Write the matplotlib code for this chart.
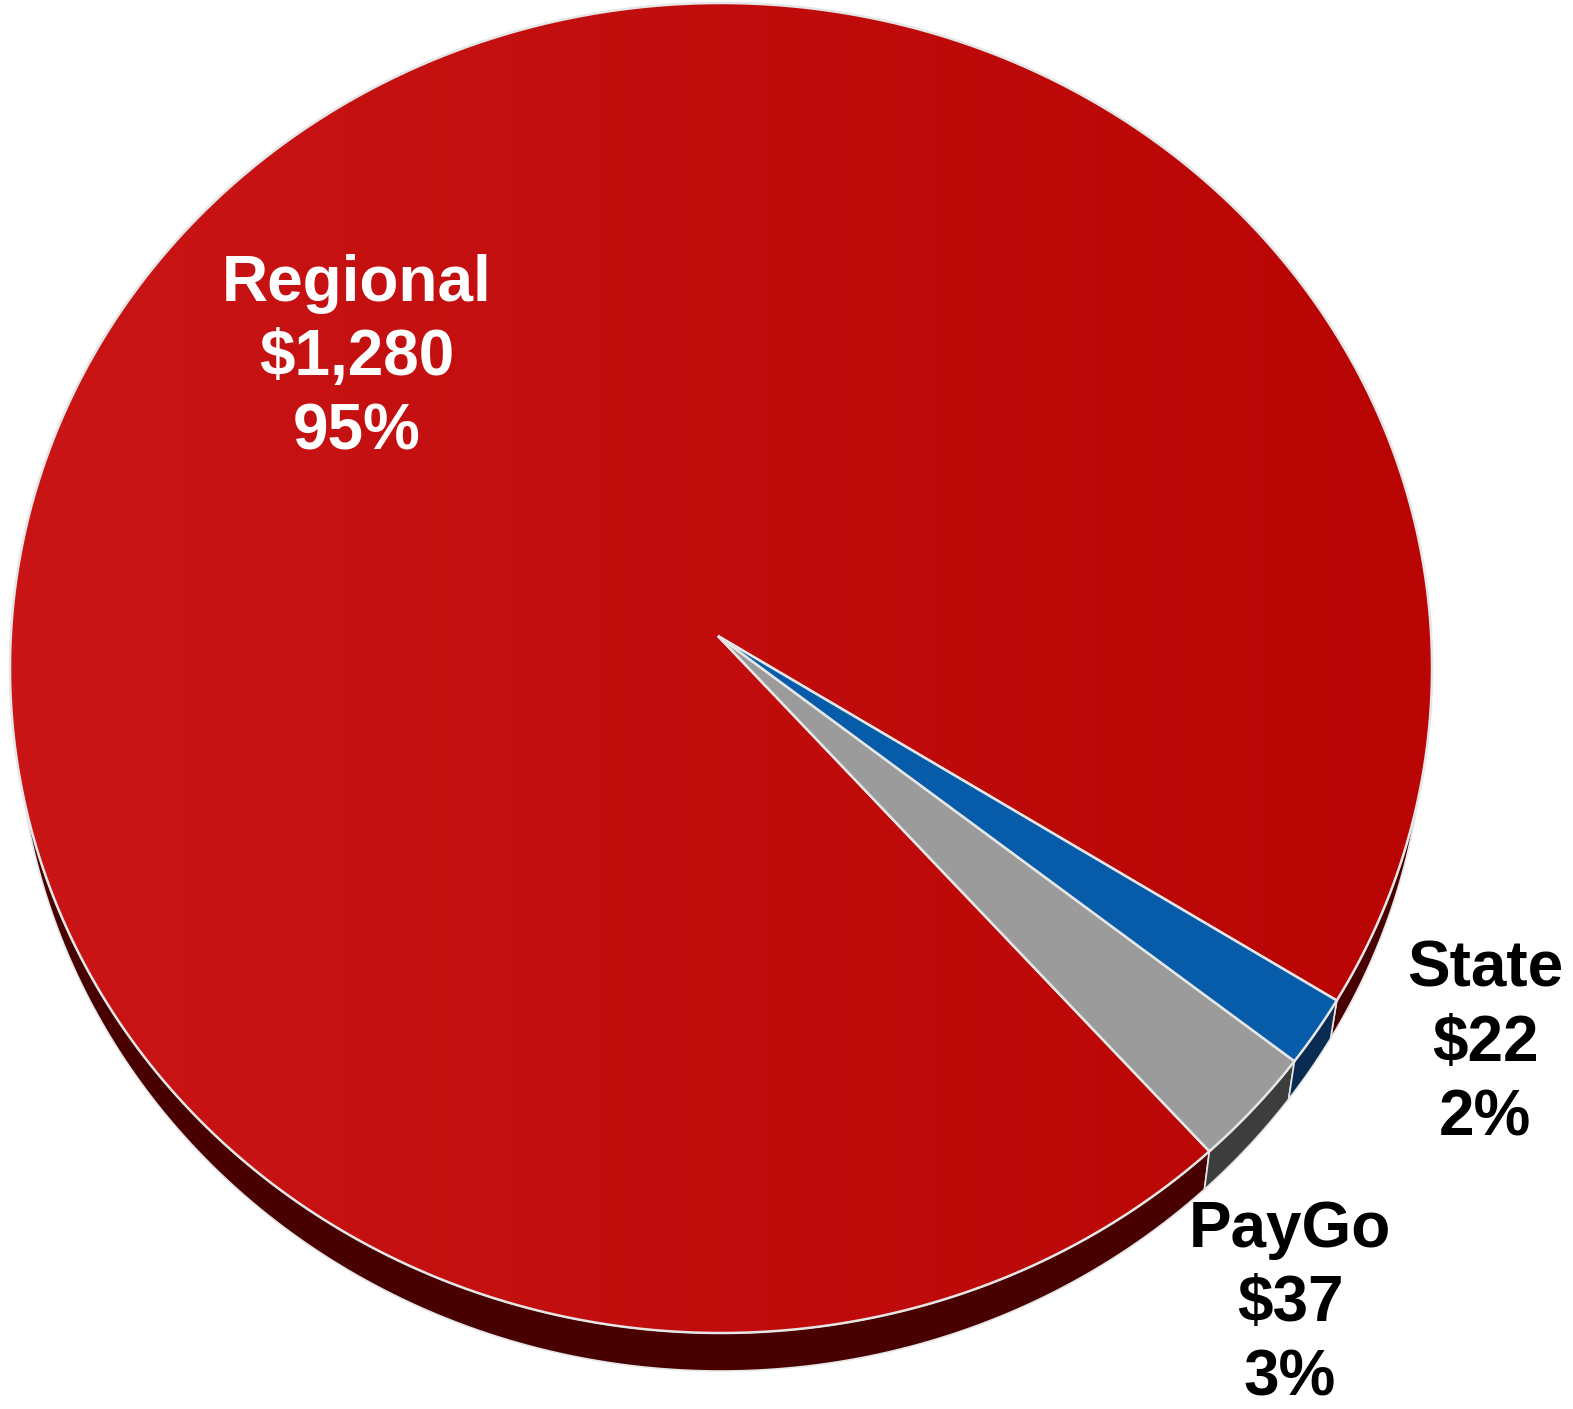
import numpy as np
import matplotlib.pyplot as plt
from matplotlib.patches import Polygon
from matplotlib.colors import LinearSegmentedColormap

# 资金来源（百万美元）
labels = ['Regional', 'PayGo', 'State']
values = [1280, 37, 22]
pct_labels = ['95%', '3%', '2%']
top_colors = ['#c21010', '#9b9b9b', '#065ca8']
side_colors = ['#480000', '#3d3d3d', '#0a2c52']
text_colors = ['white', 'black', 'black']

W, H = 1573, 1409
cx, cy, rx, ry = 721, 668, 711, 665   # 饼图上表面椭圆
ox, oy = 718, 636                      # 透视后的圆心
depth = 38
shrink = 0.99                          # 底面略小一点，做出透视感
start = -30.5


def rim(phi):
    # 从圆心沿 phi 方向射线与椭圆边缘的交点
    p = np.radians(np.atleast_1d(phi))
    c, s = np.cos(p), -np.sin(p)
    dx, dy = ox - cx, oy - cy
    a = (c / rx) ** 2 + (s / ry) ** 2
    b = 2 * (dx * c / rx ** 2 + dy * s / ry ** 2)
    k = (dx / rx) ** 2 + (dy / ry) ** 2 - 1
    t = (-b + np.sqrt(b * b - 4 * a * k)) / (2 * a)
    return ox + t * c, oy + t * s


fig = plt.figure(figsize=(W / 100, H / 100), dpi=100)
ax = fig.add_axes([0, 0, 1, 1])

total = sum(values)
angles = [start]
for v in values:
    angles.append(angles[-1] + v / total * 360)

edge = '#e6e6e6'

# 侧面
for i in range(len(values)):
    phi = np.linspace(angles[i], angles[i + 1], 400)
    x, y = rim(phi)
    xb = cx + (x - cx) * shrink
    yb = y + depth
    pts = np.vstack([np.column_stack([x, y]),
                     np.column_stack([xb[::-1], yb[::-1]])])
    ax.add_patch(Polygon(pts, closed=True, facecolor=side_colors[i],
                         edgecolor=edge, lw=1.2, zorder=1))

# 上表面
for i in range(len(values)):
    phi = np.linspace(angles[i], angles[i + 1], 400)
    x, y = rim(phi)
    pts = np.vstack([[ox, oy], np.column_stack([x, y])])
    if i == 0:
        poly = Polygon(pts, closed=True, facecolor='none',
                       edgecolor=edge, lw=1.8, zorder=3)
        ax.add_patch(poly)
        cmap = LinearSegmentedColormap.from_list('r', ['#c91515', '#b90404'])
        im = ax.imshow(np.linspace(0, 1, 256)[None, :], cmap=cmap,
                       extent=(cx - rx, cx + rx, cy + ry, cy - ry),
                       aspect='auto', zorder=2)
        im.set_clip_path(poly)
    else:
        ax.add_patch(Polygon(pts, closed=True, facecolor=top_colors[i],
                             edgecolor=edge, lw=1.8, zorder=3))

ax.set_xlim(0, W)
ax.set_ylim(H, 0)
ax.axis('off')

# 标签
label_pos = [(357, 358), (1290, 1304), (1485, 1044)]
for i in range(len(values)):
    txt = '{}\n${:,}\n{}'.format(labels[i], values[i], pct_labels[i])
    ax.text(label_pos[i][0], label_pos[i][1], txt, ha='center', va='center',
            fontsize=46, fontweight='bold', family='Liberation Sans',
            color=text_colors[i], linespacing=1.3, zorder=5)

fig.savefig('out.png', dpi=100)
